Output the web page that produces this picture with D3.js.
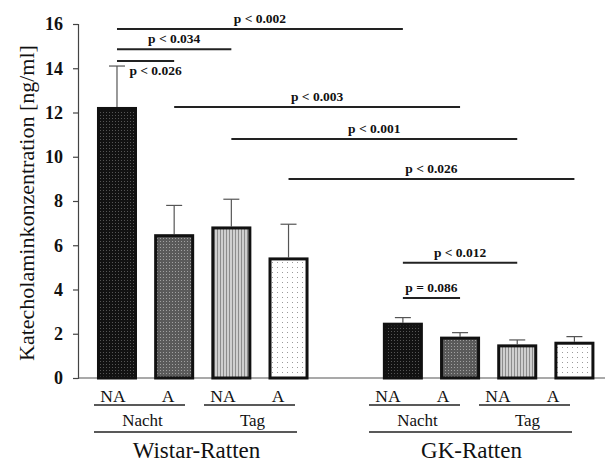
<!DOCTYPE html>
<html><head><meta charset="utf-8">
<script src="https://cdn.jsdelivr.net/npm/d3@7"></script>
<style>body{margin:0;background:#fff}svg{display:block}</style>
</head><body>
<script>
const groups = ["Wistar-Ratten", "GK-Ratten"];
const periods = ["Nacht", "Tag"];
const hormones = ["NA", "A"];
const categories = ["W-N-NA","W-N-A","W-T-NA","W-T-A","gap","G-N-NA","G-N-A","G-T-NA","G-T-A"];
const barKeys = ["W-N-NA","W-N-A","W-T-NA","W-T-A","G-N-NA","G-N-A","G-T-NA","G-T-A"];
const means = [12.25, 6.5, 6.85, 5.45, 2.5, 1.87, 1.52, 1.64];
const errors = [1.85, 1.3, 1.23, 1.5, 0.23, 0.18, 0.2, 0.23];
const patterns = ["p0","p1","p2","p3","p0","p1","p2","p3"];
const yTicks = [0,2,4,6,8,10,12,14,16];
const sigLabels = ["p < 0.002","p < 0.034","p < 0.026","p < 0.003","p < 0.001","p < 0.026","p < 0.012","p = 0.086"];
const sigFrom = ["W-N-NA","W-N-NA","W-N-NA","W-N-A","W-T-NA","W-T-A","G-N-NA","G-N-NA"];
const sigTo = ["G-N-NA","W-T-NA","W-N-A","G-N-A","G-T-NA","G-T-A","G-T-NA","G-N-A"];
const sigLevel = [15.77, 14.86, 14.33, 12.25, 10.8, 9.0, 5.21, 3.62];
const sigBelow = [false,false,true,false,false,false,false,false];

const W = 607, H = 462;
const svg = d3.select("body").append("svg").attr("width", W).attr("height", H);
const serif = "'Liberation Serif','Times New Roman',serif";

const defs = svg.append("defs");
let p = defs.append("pattern").attr("id","p0").attr("width",3).attr("height",3).attr("patternUnits","userSpaceOnUse");
p.append("rect").attr("width",3).attr("height",3).attr("fill","#121212");
p.append("rect").attr("x",1).attr("y",1).attr("width",1).attr("height",1).attr("fill","#555");
p = defs.append("pattern").attr("id","p1").attr("width",3).attr("height",3).attr("patternUnits","userSpaceOnUse");
p.append("rect").attr("width",3).attr("height",3).attr("fill","#5a5a5a");
p.append("rect").attr("x",1).attr("y",1).attr("width",1).attr("height",1).attr("fill","#a0a0a0");
p = defs.append("pattern").attr("id","p2").attr("width",3).attr("height",3).attr("patternUnits","userSpaceOnUse");
p.append("rect").attr("width",3).attr("height",3).attr("fill","#cfcfcf");
p.append("rect").attr("x",1).attr("width",1).attr("height",3).attr("fill","#8c8c8c");
p = defs.append("pattern").attr("id","p3").attr("width",5).attr("height",5).attr("patternUnits","userSpaceOnUse");
p.append("rect").attr("width",5).attr("height",5).attr("fill","#fff");
p.append("rect").attr("x",2).attr("y",2).attr("width",1).attr("height",1).attr("fill","#9a9a9a");

const y = d3.scaleLinear().domain([0,16]).range([378,24]);
const x = d3.scaleBand().domain(categories).range([88.4, 603]).paddingInner(0.3).paddingOuter(0.15);
const cx = k => x(k) + x.bandwidth()/2;
// label row scale (labels sit on a slightly tighter grid than the bars)
const xl = d3.scalePoint().domain(categories).range([113, 553]);

const yAxis = svg.append("g").attr("transform","translate(78,0)")
  .call(d3.axisLeft(y).tickValues(yTicks).tickSize(5).tickPadding(10).tickFormat(d3.format("d")));
yAxis.select(".domain").attr("stroke","#444").attr("stroke-width",1.2);
yAxis.selectAll(".tick line").attr("stroke","#444").attr("stroke-width",1.2);
yAxis.selectAll(".tick text").attr("font-family",serif).attr("font-weight","bold").attr("font-size",18).attr("fill","#111");

svg.append("line").attr("x1",78).attr("x2",605).attr("y1",y(0)).attr("y2",y(0)).attr("stroke","#555").attr("stroke-width",1.2);

svg.append("text").attr("transform","translate(34,203) rotate(-90)").attr("text-anchor","middle")
  .attr("font-family",serif).attr("font-size",22).attr("fill","#111").text("Katecholaminkonzentration [ng/ml]");

const bars = barKeys.map((k,i)=>({k, m:means[i], e:errors[i], pat:patterns[i]}));
svg.append("g").selectAll("line").data(bars).join("line")
  .attr("x1",d=>cx(d.k)).attr("x2",d=>cx(d.k)).attr("y1",d=>y(d.m)).attr("y2",d=>y(d.m+d.e))
  .attr("stroke","#555").attr("stroke-width",1.2);
svg.append("g").selectAll("line").data(bars).join("line")
  .attr("x1",d=>cx(d.k)-8).attr("x2",d=>cx(d.k)+8).attr("y1",d=>y(d.m+d.e)).attr("y2",d=>y(d.m+d.e))
  .attr("stroke","#555").attr("stroke-width",1.2);
svg.append("g").selectAll("rect").data(bars).join("rect")
  .attr("x",d=>x(d.k)+1.5).attr("width",x.bandwidth()-3)
  .attr("y",d=>y(d.m)+1.5).attr("height",d=>y(0)-y(d.m)-1.5)
  .attr("fill",d=>`url(#${d.pat})`).attr("stroke","#111").attr("stroke-width",3);

const sig = sigLabels.map((l,i)=>({l, a:sigFrom[i], b:sigTo[i], v:sigLevel[i], below:sigBelow[i]}));
const sg = svg.append("g");
sg.selectAll("line").data(sig).join("line")
  .attr("x1",d=>cx(d.a)).attr("x2",d=>cx(d.b)).attr("y1",d=>y(d.v)).attr("y2",d=>y(d.v))
  .attr("stroke","#222").attr("stroke-width",2);
sg.selectAll("text").data(sig).join("text")
  .attr("x",d=> d.below ? (cx(d.a)+cx(d.b))/2 + 10 : (cx(d.a)+cx(d.b))/2)
  .attr("y",d=> d.below ? y(d.v)+14 : y(d.v)-6)
  .attr("text-anchor","middle").attr("font-family",serif).attr("font-weight","bold").attr("font-size",13.5).attr("fill","#111")
  .text(d=>d.l);

const lab = svg.append("g").attr("font-family",serif).attr("fill","#111").attr("text-anchor","middle");
lab.selectAll("text.h").data(barKeys).join("text")
  .attr("x",k=>xl(k)).attr("y",402).attr("font-size",17.5)
  .text((k,i)=>hormones[i%2]);
const periodSpans = [];
groups.forEach((g,gi)=>periods.forEach((pd,pi)=>{
  periodSpans.push({label:pd, a:barKeys[gi*4+pi*2], b:barKeys[gi*4+pi*2+1]});
}));
lab.selectAll("line.p").data(periodSpans).join("line")
  .attr("x1",d=>xl(d.a)-19).attr("x2",d=>xl(d.b)+17).attr("y1",405).attr("y2",405)
  .attr("stroke","#222").attr("stroke-width",1.5);
lab.selectAll("text.p").data(periodSpans).join("text")
  .attr("x",d=>(xl(d.a)+xl(d.b))/2 + 2).attr("y",426).attr("font-size",17).text(d=>d.label);
const groupSpans = groups.map((g,gi)=>({label:g, a:barKeys[gi*4], b:barKeys[gi*4+3]}));
lab.selectAll("line.g").data(groupSpans).join("line")
  .attr("x1",d=>xl(d.a)-19).attr("x2",d=>xl(d.b)+19).attr("y1",432).attr("y2",432)
  .attr("stroke","#222").attr("stroke-width",1.5);
lab.selectAll("text.g").data(groupSpans).join("text")
  .attr("x",d=>(xl(d.a)+xl(d.b))/2 + 1).attr("y",458).attr("font-size",23).text(d=>d.label);
</script>
</body></html>
